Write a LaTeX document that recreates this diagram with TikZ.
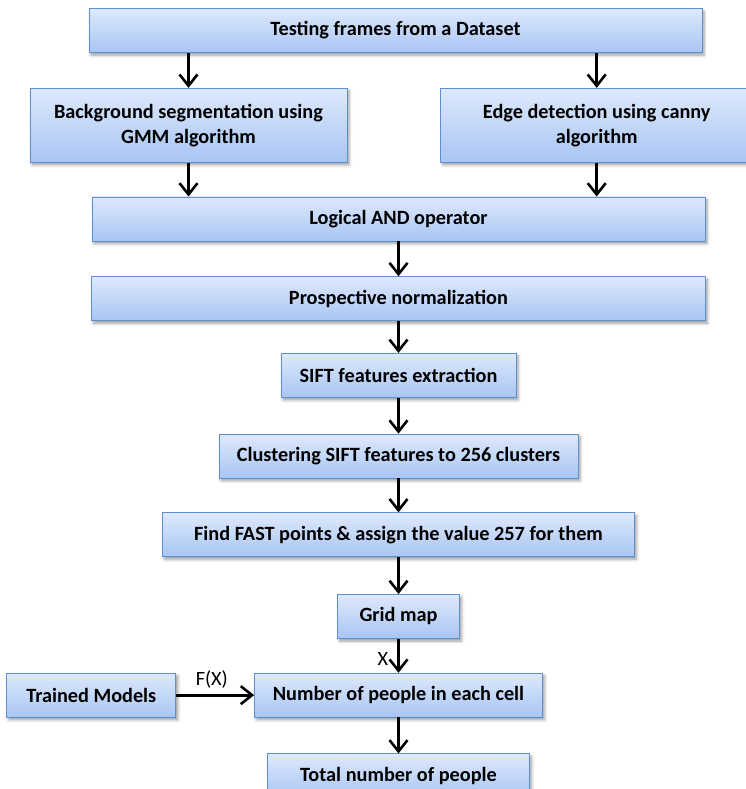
\documentclass[tikz,border=0pt]{standalone}
\usepackage{fontspec}
\setmainfont{Carlito}
\usepackage{xcolor}
\usepackage{tikz}
\usetikzlibrary{positioning, arrows.meta, shadows.blur}
\definecolor{stagetop}{HTML}{DEE9FC}
\definecolor{stagebot}{HTML}{A8C5F3}
\definecolor{stageedge}{HTML}{5F8FD3}
\definecolor{ink}{HTML}{000000}
\tikzset{
  stage/.style  = {rectangle, draw=stageedge, semithick,
                   top color=stagetop, bottom color=stagebot,
                   minimum height=1.32cm, align=center,
                   font=\fontsize{17.3}{21.5}\selectfont\bfseries,
                   blur shadow={shadow xshift=0.6mm, shadow yshift=-0.8mm,
                                shadow blur radius=0.9mm, shadow opacity=40}},
  stagetall/.style = {stage, minimum height=2.22cm},
  ar/.style     = {-{Straight Barb[length=3.4mm,width=5.4mm,line width=2.2pt]},
                   line width=2.4pt, draw=ink},
  lbl/.style    = {font=\fontsize{17.3}{21.5}\selectfont, inner sep=2pt},
}
\begin{document}
\begin{tikzpicture}

  \useasboundingbox (0,0) rectangle (22.38,-23.67);

  % ----- input and the two branches -----
  \node[stage, minimum width=18.39cm] (frames) at (11.865,-0.915) {Testing frames from a Dataset};

  \node[stagetall, below=1.05cm of frames, xshift=-6.21cm, minimum width=9.51cm] (bgseg)
       {Background segmentation using\\GMM algorithm};
  \node[stagetall, right=2.79cm of bgseg, minimum width=9.36cm] (edges)
       {Edge detection using canny\\algorithm};

  \draw[ar] (frames.south -| bgseg.north) -- (bgseg.north);
  \draw[ar] (frames.south -| edges.north) -- (edges.north);

  % ----- main chain -----
  \node[stage, below=1.02cm of bgseg, xshift=6.3cm, minimum width=18.39cm] (andop) {Logical AND operator};
  \node[stage, below=1.05cm of andop, minimum width=18.42cm] (prosp) {Prospective normalization};
  \node[stage, below=0.96cm of prosp, minimum width=7.05cm] (sift) {SIFT features extraction};
  \node[stage, below=1.08cm of sift, minimum width=10.77cm] (clust) {Clustering SIFT features to 256 clusters};
  \node[stage, below=1.02cm of clust, minimum width=14.16cm] (fast) {Find FAST points \& assign the value 257 for them};
  \node[stage, below=1.11cm of fast, minimum width=3.66cm] (grid) {Grid map};
  \node[stage, below=1.02cm of grid, minimum width=8.64cm] (count) {Number of people in each cell};
  \node[stage, below=1.08cm of count, minimum width=7.86cm] (total) {Total number of people};

  \node[stage, left=2.34cm of count, minimum width=5.07cm] (models) {Trained Models};

  \draw[ar] (bgseg.south) -- (andop.north -| bgseg.south);
  \draw[ar] (edges.south) -- (andop.north -| edges.south);
  \draw[ar] (andop) -- (prosp);
  \draw[ar] (prosp) -- (sift);
  \draw[ar] (sift) -- (clust);
  \draw[ar] (clust) -- (fast);
  \draw[ar] (fast) -- (grid);
  \draw[ar] (grid) -- node[lbl, left=2mm, pos=0.6]{X} (count);
  \draw[ar] (count) -- (total);
  \draw[ar] (models) -- node[lbl, above=1mm, xshift=-1mm]{F(X)} (count);

\end{tikzpicture}
\end{document}
